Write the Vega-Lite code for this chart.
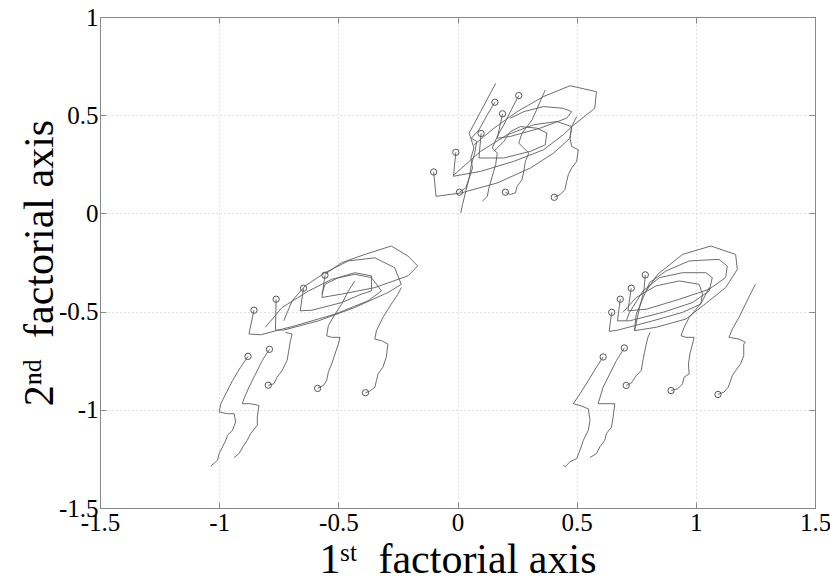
{
"$schema": "https://vega.github.io/schema/vega-lite/v6.json",
"width": 715, "height": 491,
"autosize": {"type": "none"},
"padding": {"left": 100, "top": 17, "right": 15, "bottom": 73},
"background": "white",
"data": {"values": [
{"g":"Ta","o":0,"x":-0.100,"y":0.211},{"g":"Ta","o":1,"x":-0.090,"y":0.087},{"g":"Ta","o":2,"x":0.014,"y":0.104},{"g":"Ta","o":3,"x":0.167,"y":0.155},{"g":"Ta","o":4,"x":0.306,"y":0.231},{"g":"Ta","o":5,"x":0.403,"y":0.307},{"g":"Ta","o":6,"x":0.472,"y":0.383},{"g":"Ta","o":7,"x":0.479,"y":0.442},{"g":"Ta","o":8,"x":0.417,"y":0.468},{"g":"Ta","o":9,"x":0.319,"y":0.451},{"g":"Ta","o":10,"x":0.208,"y":0.400},{"g":"Ta","o":11,"x":0.097,"y":0.316},{"g":"Ta","o":12,"x":-0.014,"y":0.197},
{"g":"Tb","o":0,"x":-0.007,"y":0.311},{"g":"Tb","o":1,"x":-0.017,"y":0.189},{"g":"Tb","o":2,"x":0.097,"y":0.214},{"g":"Tb","o":3,"x":0.236,"y":0.265},{"g":"Tb","o":4,"x":0.361,"y":0.324},{"g":"Tb","o":5,"x":0.444,"y":0.400},{"g":"Tb","o":6,"x":0.479,"y":0.442},{"g":"Tb","o":7,"x":0.576,"y":0.535},{"g":"Tb","o":8,"x":0.583,"y":0.620},{"g":"Tb","o":9,"x":0.472,"y":0.650},{"g":"Tb","o":10,"x":0.361,"y":0.595},{"g":"Tb","o":11,"x":0.250,"y":0.518},{"g":"Tb","o":12,"x":0.153,"y":0.434},{"g":"Tb","o":13,"x":0.069,"y":0.349},
{"g":"Tc","o":0,"x":0.099,"y":0.407},{"g":"Tc","o":1,"x":0.090,"y":0.282},{"g":"Tc","o":2,"x":0.194,"y":0.282},{"g":"Tc","o":3,"x":0.306,"y":0.316},{"g":"Tc","o":4,"x":0.368,"y":0.349},{"g":"Tc","o":5,"x":0.375,"y":0.409},{"g":"Tc","o":6,"x":0.333,"y":0.434},{"g":"Tc","o":7,"x":0.264,"y":0.442},{"g":"Tc","o":8,"x":0.222,"y":0.417},{"g":"Tc","o":9,"x":0.194,"y":0.366},{"g":"Tc","o":10,"x":0.153,"y":0.316},
{"g":"Td","o":0,"x":0.189,"y":0.507},{"g":"Td","o":1,"x":0.167,"y":0.383},{"g":"Td","o":2,"x":0.222,"y":0.392},{"g":"Td","o":3,"x":0.347,"y":0.434},{"g":"Td","o":4,"x":0.458,"y":0.485},{"g":"Td","o":5,"x":0.479,"y":0.518},{"g":"Td","o":6,"x":0.444,"y":0.535},{"g":"Td","o":7,"x":0.361,"y":0.544},{"g":"Td","o":8,"x":0.278,"y":0.518},{"g":"Td","o":9,"x":0.222,"y":0.485},
{"g":"Tw1","o":0,"x":0.157,"y":0.566},{"g":"Tw1","o":1,"x":0.125,"y":0.502},{"g":"Tw1","o":2,"x":0.090,"y":0.425},{"g":"Tw1","o":3,"x":0.058,"y":0.383},{"g":"Tw1","o":4,"x":0.081,"y":0.366},{"g":"Tw1","o":5,"x":0.072,"y":0.307},{"g":"Tw1","o":6,"x":0.058,"y":0.248},{"g":"Tw1","o":7,"x":0.049,"y":0.180},{"g":"Tw1","o":8,"x":0.035,"y":0.113},{"g":"Tw1","o":9,"x":0.021,"y":0.045},{"g":"Tw1","o":10,"x":0.014,"y":0.003},
{"g":"Tw2","o":0,"x":0.257,"y":0.600},{"g":"Tw2","o":1,"x":0.229,"y":0.535},{"g":"Tw2","o":2,"x":0.194,"y":0.451},{"g":"Tw2","o":3,"x":0.167,"y":0.392},{"g":"Tw2","o":4,"x":0.146,"y":0.333},{"g":"Tw2","o":5,"x":0.167,"y":0.307},{"g":"Tw2","o":6,"x":0.160,"y":0.248},{"g":"Tw2","o":7,"x":0.146,"y":0.189},{"g":"Tw2","o":8,"x":0.132,"y":0.130},{"g":"Tw2","o":9,"x":0.125,"y":0.087},{"g":"Tw2","o":10,"x":0.104,"y":0.062},
{"g":"Tw3","o":0,"x":0.008,"y":0.108},{"g":"Tw3","o":1,"x":0.035,"y":0.130},{"g":"Tw3","o":2,"x":0.049,"y":0.180},{"g":"Tw3","o":3,"x":0.063,"y":0.231},{"g":"Tw3","o":4,"x":0.056,"y":0.282},{"g":"Tw3","o":5,"x":0.069,"y":0.333},{"g":"Tw3","o":6,"x":0.049,"y":0.409},{"g":"Tw3","o":7,"x":0.097,"y":0.518},{"g":"Tw3","o":8,"x":0.160,"y":0.662},
{"g":"Tw4","o":0,"x":0.201,"y":0.108},{"g":"Tw4","o":1,"x":0.222,"y":0.096},{"g":"Tw4","o":2,"x":0.243,"y":0.104},{"g":"Tw4","o":3,"x":0.250,"y":0.138},{"g":"Tw4","o":4,"x":0.271,"y":0.172},{"g":"Tw4","o":5,"x":0.278,"y":0.214},{"g":"Tw4","o":6,"x":0.285,"y":0.265},{"g":"Tw4","o":7,"x":0.299,"y":0.307},{"g":"Tw4","o":8,"x":0.278,"y":0.333},{"g":"Tw4","o":9,"x":0.257,"y":0.358},{"g":"Tw4","o":10,"x":0.271,"y":0.409},{"g":"Tw4","o":11,"x":0.313,"y":0.476},{"g":"Tw4","o":12,"x":0.368,"y":0.628},
{"g":"Tw5","o":0,"x":0.406,"y":0.082},{"g":"Tw5","o":1,"x":0.431,"y":0.096},{"g":"Tw5","o":2,"x":0.451,"y":0.121},{"g":"Tw5","o":3,"x":0.458,"y":0.163},{"g":"Tw5","o":4,"x":0.465,"y":0.197},{"g":"Tw5","o":5,"x":0.479,"y":0.231},{"g":"Tw5","o":6,"x":0.500,"y":0.265},{"g":"Tw5","o":7,"x":0.507,"y":0.324},{"g":"Tw5","o":8,"x":0.479,"y":0.341},{"g":"Tw5","o":9,"x":0.472,"y":0.383},{"g":"Tw5","o":10,"x":0.479,"y":0.442},{"g":"Tw5","o":11,"x":0.500,"y":0.493},
{"g":"Ra","o":0,"x":0.647,"y":-0.504},{"g":"Ra","o":1,"x":0.636,"y":-0.601},{"g":"Ra","o":2,"x":0.674,"y":-0.594},{"g":"Ra","o":3,"x":0.819,"y":-0.547},{"g":"Ra","o":4,"x":0.944,"y":-0.504},{"g":"Ra","o":5,"x":1.021,"y":-0.462},{"g":"Ra","o":6,"x":1.028,"y":-0.411},{"g":"Ra","o":7,"x":1.014,"y":-0.361},{"g":"Ra","o":8,"x":0.931,"y":-0.344},{"g":"Ra","o":9,"x":0.833,"y":-0.369},{"g":"Ra","o":10,"x":0.750,"y":-0.428},{"g":"Ra","o":11,"x":0.694,"y":-0.504},
{"g":"Rb","o":0,"x":0.683,"y":-0.437},{"g":"Rb","o":1,"x":0.671,"y":-0.547},{"g":"Rb","o":2,"x":0.722,"y":-0.547},{"g":"Rb","o":3,"x":0.861,"y":-0.504},{"g":"Rb","o":4,"x":0.986,"y":-0.454},{"g":"Rb","o":5,"x":1.056,"y":-0.395},{"g":"Rb","o":6,"x":1.069,"y":-0.327},{"g":"Rb","o":7,"x":1.042,"y":-0.302},{"g":"Rb","o":8,"x":0.944,"y":-0.302},{"g":"Rb","o":9,"x":0.847,"y":-0.327},{"g":"Rb","o":10,"x":0.778,"y":-0.395},{"g":"Rb","o":11,"x":0.722,"y":-0.504},{"g":"Rb","o":12,"x":0.708,"y":-0.547},
{"g":"Rc","o":0,"x":0.729,"y":-0.381},{"g":"Rc","o":1,"x":0.715,"y":-0.496},{"g":"Rc","o":2,"x":0.792,"y":-0.488},{"g":"Rc","o":3,"x":0.931,"y":-0.437},{"g":"Rc","o":4,"x":1.056,"y":-0.386},{"g":"Rc","o":5,"x":1.125,"y":-0.327},{"g":"Rc","o":6,"x":1.132,"y":-0.268},{"g":"Rc","o":7,"x":1.097,"y":-0.234},{"g":"Rc","o":8,"x":0.972,"y":-0.242},{"g":"Rc","o":9,"x":0.875,"y":-0.293},{"g":"Rc","o":10,"x":0.806,"y":-0.352},{"g":"Rc","o":11,"x":0.750,"y":-0.513},{"g":"Rc","o":12,"x":0.743,"y":-0.597},
{"g":"Rd","o":0,"x":0.788,"y":-0.313},{"g":"Rd","o":1,"x":0.782,"y":-0.395},{"g":"Rd","o":2,"x":0.764,"y":-0.479},{"g":"Rd","o":3,"x":0.743,"y":-0.597},{"g":"Rd","o":4,"x":0.833,"y":-0.580},{"g":"Rd","o":5,"x":0.958,"y":-0.538},{"g":"Rd","o":6,"x":1.056,"y":-0.445},{"g":"Rd","o":7,"x":1.125,"y":-0.378},{"g":"Rd","o":8,"x":1.174,"y":-0.285},{"g":"Rd","o":9,"x":1.167,"y":-0.209},{"g":"Rd","o":10,"x":1.063,"y":-0.166},{"g":"Rd","o":11,"x":0.944,"y":-0.209},{"g":"Rd","o":12,"x":0.840,"y":-0.310},{"g":"Rd","o":13,"x":0.792,"y":-0.395},
{"g":"Rw1","o":0,"x":0.611,"y":-0.731},{"g":"Rw1","o":1,"x":0.583,"y":-0.783},{"g":"Rw1","o":2,"x":0.549,"y":-0.851},{"g":"Rw1","o":3,"x":0.514,"y":-0.918},{"g":"Rw1","o":4,"x":0.486,"y":-0.969},{"g":"Rw1","o":5,"x":0.514,"y":-0.978},{"g":"Rw1","o":6,"x":0.549,"y":-0.995},{"g":"Rw1","o":7,"x":0.556,"y":-1.054},{"g":"Rw1","o":8,"x":0.549,"y":-1.104},{"g":"Rw1","o":9,"x":0.528,"y":-1.155},{"g":"Rw1","o":10,"x":0.514,"y":-1.206},{"g":"Rw1","o":11,"x":0.500,"y":-1.248},{"g":"Rw1","o":12,"x":0.472,"y":-1.265},{"g":"Rw1","o":13,"x":0.451,"y":-1.290},{"g":"Rw1","o":14,"x":0.444,"y":-1.282},
{"g":"Rw2","o":0,"x":0.700,"y":-0.685},{"g":"Rw2","o":1,"x":0.667,"y":-0.749},{"g":"Rw2","o":2,"x":0.639,"y":-0.817},{"g":"Rw2","o":3,"x":0.611,"y":-0.885},{"g":"Rw2","o":4,"x":0.590,"y":-0.969},{"g":"Rw2","o":5,"x":0.625,"y":-0.969},{"g":"Rw2","o":6,"x":0.660,"y":-0.969},{"g":"Rw2","o":7,"x":0.653,"y":-1.037},{"g":"Rw2","o":8,"x":0.646,"y":-1.088},{"g":"Rw2","o":9,"x":0.625,"y":-1.121},{"g":"Rw2","o":10,"x":0.618,"y":-1.155},{"g":"Rw2","o":11,"x":0.597,"y":-1.189},{"g":"Rw2","o":12,"x":0.583,"y":-1.223},{"g":"Rw2","o":13,"x":0.556,"y":-1.243},
{"g":"Rw3","o":0,"x":0.708,"y":-0.876},{"g":"Rw3","o":1,"x":0.729,"y":-0.864},{"g":"Rw3","o":2,"x":0.750,"y":-0.826},{"g":"Rw3","o":3,"x":0.771,"y":-0.800},{"g":"Rw3","o":4,"x":0.778,"y":-0.749},{"g":"Rw3","o":5,"x":0.785,"y":-0.707},{"g":"Rw3","o":6,"x":0.792,"y":-0.665},{"g":"Rw3","o":7,"x":0.799,"y":-0.631},{"g":"Rw3","o":8,"x":0.808,"y":-0.606},
{"g":"Rw4","o":0,"x":0.896,"y":-0.902},{"g":"Rw4","o":1,"x":0.924,"y":-0.893},{"g":"Rw4","o":2,"x":0.944,"y":-0.868},{"g":"Rw4","o":3,"x":0.951,"y":-0.834},{"g":"Rw4","o":4,"x":0.972,"y":-0.817},{"g":"Rw4","o":5,"x":0.969,"y":-0.766},{"g":"Rw4","o":6,"x":0.975,"y":-0.716},{"g":"Rw4","o":7,"x":0.986,"y":-0.665},{"g":"Rw4","o":8,"x":0.993,"y":-0.631},{"g":"Rw4","o":9,"x":0.958,"y":-0.631},{"g":"Rw4","o":10,"x":0.938,"y":-0.623},{"g":"Rw4","o":11,"x":0.951,"y":-0.580},{"g":"Rw4","o":12,"x":0.972,"y":-0.530},{"g":"Rw4","o":13,"x":1.007,"y":-0.479},{"g":"Rw4","o":14,"x":1.028,"y":-0.445},{"g":"Rw4","o":15,"x":1.056,"y":-0.378},
{"g":"Rw5","o":0,"x":1.093,"y":-0.922},{"g":"Rw5","o":1,"x":1.118,"y":-0.910},{"g":"Rw5","o":2,"x":1.136,"y":-0.885},{"g":"Rw5","o":3,"x":1.146,"y":-0.851},{"g":"Rw5","o":4,"x":1.153,"y":-0.826},{"g":"Rw5","o":5,"x":1.167,"y":-0.800},{"g":"Rw5","o":6,"x":1.188,"y":-0.766},{"g":"Rw5","o":7,"x":1.201,"y":-0.724},{"g":"Rw5","o":8,"x":1.201,"y":-0.665},{"g":"Rw5","o":9,"x":1.208,"y":-0.656},{"g":"Rw5","o":10,"x":1.181,"y":-0.640},{"g":"Rw5","o":11,"x":1.139,"y":-0.631},{"g":"Rw5","o":12,"x":1.153,"y":-0.589},{"g":"Rw5","o":13,"x":1.181,"y":-0.530},{"g":"Rw5","o":14,"x":1.208,"y":-0.462},{"g":"Rw5","o":15,"x":1.229,"y":-0.411},{"g":"Rw5","o":16,"x":1.250,"y":-0.361},
{"g":"La","o":0,"x":-0.854,"y":-0.493},{"g":"La","o":1,"x":-0.875,"y":-0.614},{"g":"La","o":2,"x":-0.826,"y":-0.618},{"g":"La","o":3,"x":-0.681,"y":-0.572},{"g":"La","o":4,"x":-0.514,"y":-0.513},{"g":"La","o":5,"x":-0.375,"y":-0.445},{"g":"La","o":6,"x":-0.319,"y":-0.395},{"g":"La","o":7,"x":-0.361,"y":-0.327},{"g":"La","o":8,"x":-0.431,"y":-0.310},{"g":"La","o":9,"x":-0.527,"y":-0.335},{"g":"La","o":10,"x":-0.625,"y":-0.395},{"g":"La","o":11,"x":-0.736,"y":-0.479},{"g":"La","o":12,"x":-0.806,"y":-0.580},
{"g":"Lb","o":0,"x":-0.761,"y":-0.437},{"g":"Lb","o":1,"x":-0.764,"y":-0.594},{"g":"Lb","o":2,"x":-0.729,"y":-0.594},{"g":"Lb","o":3,"x":-0.583,"y":-0.547},{"g":"Lb","o":4,"x":-0.431,"y":-0.479},{"g":"Lb","o":5,"x":-0.292,"y":-0.403},{"g":"Lb","o":6,"x":-0.236,"y":-0.361},{"g":"Lb","o":7,"x":-0.264,"y":-0.276},{"g":"Lb","o":8,"x":-0.347,"y":-0.226},{"g":"Lb","o":9,"x":-0.458,"y":-0.242},{"g":"Lb","o":10,"x":-0.556,"y":-0.302},{"g":"Lb","o":11,"x":-0.639,"y":-0.369},{"g":"Lb","o":12,"x":-0.694,"y":-0.445},{"g":"Lb","o":13,"x":-0.729,"y":-0.547},
{"g":"Lc","o":0,"x":-0.646,"y":-0.381},{"g":"Lc","o":1,"x":-0.660,"y":-0.496},{"g":"Lc","o":2,"x":-0.611,"y":-0.493},{"g":"Lc","o":3,"x":-0.486,"y":-0.454},{"g":"Lc","o":4,"x":-0.403,"y":-0.411},{"g":"Lc","o":5,"x":-0.361,"y":-0.395},{"g":"Lc","o":6,"x":-0.361,"y":-0.318},{"g":"Lc","o":7,"x":-0.431,"y":-0.302},{"g":"Lc","o":8,"x":-0.500,"y":-0.327},{"g":"Lc","o":9,"x":-0.556,"y":-0.361},{"g":"Lc","o":10,"x":-0.569,"y":-0.411},
{"g":"Ld","o":0,"x":-0.556,"y":-0.315},{"g":"Ld","o":1,"x":-0.569,"y":-0.428},{"g":"Ld","o":2,"x":-0.486,"y":-0.411},{"g":"Ld","o":3,"x":-0.347,"y":-0.378},{"g":"Ld","o":4,"x":-0.208,"y":-0.318},{"g":"Ld","o":5,"x":-0.167,"y":-0.268},{"g":"Ld","o":6,"x":-0.208,"y":-0.217},{"g":"Ld","o":7,"x":-0.278,"y":-0.166},{"g":"Ld","o":8,"x":-0.389,"y":-0.209},{"g":"Ld","o":9,"x":-0.486,"y":-0.251},{"g":"Ld","o":10,"x":-0.556,"y":-0.310},
{"g":"Lw1","o":0,"x":-0.879,"y":-0.728},{"g":"Lw1","o":1,"x":-0.910,"y":-0.783},{"g":"Lw1","o":2,"x":-0.944,"y":-0.851},{"g":"Lw1","o":3,"x":-0.972,"y":-0.918},{"g":"Lw1","o":4,"x":-0.993,"y":-0.969},{"g":"Lw1","o":5,"x":-1.000,"y":-1.011},{"g":"Lw1","o":6,"x":-0.965,"y":-1.020},{"g":"Lw1","o":7,"x":-0.937,"y":-1.020},{"g":"Lw1","o":8,"x":-0.931,"y":-1.062},{"g":"Lw1","o":9,"x":-0.944,"y":-1.104},{"g":"Lw1","o":10,"x":-0.965,"y":-1.130},{"g":"Lw1","o":11,"x":-0.972,"y":-1.155},{"g":"Lw1","o":12,"x":-0.986,"y":-1.189},{"g":"Lw1","o":13,"x":-1.000,"y":-1.223},{"g":"Lw1","o":14,"x":-1.007,"y":-1.257},{"g":"Lw1","o":15,"x":-1.035,"y":-1.287},
{"g":"Lw2","o":0,"x":-0.789,"y":-0.692},{"g":"Lw2","o":1,"x":-0.819,"y":-0.749},{"g":"Lw2","o":2,"x":-0.847,"y":-0.817},{"g":"Lw2","o":3,"x":-0.875,"y":-0.885},{"g":"Lw2","o":4,"x":-0.896,"y":-0.944},{"g":"Lw2","o":5,"x":-0.903,"y":-0.969},{"g":"Lw2","o":6,"x":-0.868,"y":-0.969},{"g":"Lw2","o":7,"x":-0.833,"y":-0.978},{"g":"Lw2","o":8,"x":-0.840,"y":-1.037},{"g":"Lw2","o":9,"x":-0.840,"y":-1.079},{"g":"Lw2","o":10,"x":-0.868,"y":-1.121},{"g":"Lw2","o":11,"x":-0.882,"y":-1.155},{"g":"Lw2","o":12,"x":-0.896,"y":-1.180},{"g":"Lw2","o":13,"x":-0.917,"y":-1.223},{"g":"Lw2","o":14,"x":-0.937,"y":-1.243},
{"g":"Lw3","o":0,"x":-0.794,"y":-0.875},{"g":"Lw3","o":1,"x":-0.771,"y":-0.868},{"g":"Lw3","o":2,"x":-0.757,"y":-0.834},{"g":"Lw3","o":3,"x":-0.736,"y":-0.800},{"g":"Lw3","o":4,"x":-0.715,"y":-0.749},{"g":"Lw3","o":5,"x":-0.708,"y":-0.699},{"g":"Lw3","o":6,"x":-0.701,"y":-0.648},{"g":"Lw3","o":7,"x":-0.694,"y":-0.614},{"g":"Lw3","o":8,"x":-0.722,"y":-0.606},
{"g":"Lw4","o":0,"x":-0.587,"y":-0.891},{"g":"Lw4","o":1,"x":-0.562,"y":-0.876},{"g":"Lw4","o":2,"x":-0.549,"y":-0.851},{"g":"Lw4","o":3,"x":-0.542,"y":-0.809},{"g":"Lw4","o":4,"x":-0.528,"y":-0.766},{"g":"Lw4","o":5,"x":-0.514,"y":-0.716},{"g":"Lw4","o":6,"x":-0.500,"y":-0.665},{"g":"Lw4","o":7,"x":-0.493,"y":-0.631},{"g":"Lw4","o":8,"x":-0.528,"y":-0.631},{"g":"Lw4","o":9,"x":-0.549,"y":-0.623},{"g":"Lw4","o":10,"x":-0.542,"y":-0.572},{"g":"Lw4","o":11,"x":-0.514,"y":-0.513},{"g":"Lw4","o":12,"x":-0.486,"y":-0.462},{"g":"Lw4","o":13,"x":-0.458,"y":-0.395},{"g":"Lw4","o":14,"x":-0.431,"y":-0.344},
{"g":"Lw5","o":0,"x":-0.386,"y":-0.913},{"g":"Lw5","o":1,"x":-0.368,"y":-0.905},{"g":"Lw5","o":2,"x":-0.347,"y":-0.885},{"g":"Lw5","o":3,"x":-0.340,"y":-0.851},{"g":"Lw5","o":4,"x":-0.333,"y":-0.817},{"g":"Lw5","o":5,"x":-0.313,"y":-0.783},{"g":"Lw5","o":6,"x":-0.299,"y":-0.733},{"g":"Lw5","o":7,"x":-0.292,"y":-0.665},{"g":"Lw5","o":8,"x":-0.319,"y":-0.648},{"g":"Lw5","o":9,"x":-0.347,"y":-0.640},{"g":"Lw5","o":10,"x":-0.340,"y":-0.597},{"g":"Lw5","o":11,"x":-0.313,"y":-0.530},{"g":"Lw5","o":12,"x":-0.278,"y":-0.462},{"g":"Lw5","o":13,"x":-0.250,"y":-0.411},{"g":"Lw5","o":14,"x":-0.236,"y":-0.378}
]},
"layer": [
{"mark": {"type": "line", "stroke": "#5e5e5e", "strokeWidth": 0.9},
 "encoding": {
  "x": {"field": "x", "type": "quantitative", "scale": {"domain": [-1.5, 1.5], "nice": false, "zero": false},
        "axis": {"orient": "bottom", "values": [-1.5, -1, -0.5, 0, 0.5, 1, 1.5], "labelExpr": "'' + datum.value", "grid": true,
                 "title": "1ˢᵗ\u2002factorial axis", "titleY": 64, "titleBaseline": "alphabetic"}},
  "y": {"field": "y", "type": "quantitative", "scale": {"domain": [-1.5, 1], "nice": false, "zero": false},
        "axis": {"orient": "left", "values": [-1.5, -1, -0.5, 0, 0.5, 1], "labelExpr": "'' + datum.value", "grid": true,
                 "title": "2ⁿᵈ\u2002factorial axis", "titleX": -48, "titleBaseline": "alphabetic"}},
  "detail": {"field": "g"},
  "order": {"field": "o", "type": "quantitative"}
 }},
{"transform": [{"filter": "datum.o == 0"}],
 "mark": {"type": "point", "shape": "circle", "filled": false, "size": 40, "stroke": "#555", "strokeWidth": 1, "opacity": 1},
 "encoding": {
  "x": {"field": "x", "type": "quantitative",
        "axis": {"orient": "top", "values": [-1.5, -1, -0.5, 0, 0.5, 1, 1.5], "labels": false, "grid": false, "title": null}},
  "y": {"field": "y", "type": "quantitative",
        "axis": {"orient": "right", "values": [-1.5, -1, -0.5, 0, 0.5, 1], "labels": false, "grid": false, "title": null}}
 }}
],
"resolve": {"axis": {"x": "independent", "y": "independent"}},
"config": {
 "view": {"stroke": null},
 "axis": {"domainColor": "#888", "domainWidth": 1, "tickColor": "#888", "tickSize": -6, "tickWidth": 1,
          "gridColor": "#c4c4c4", "gridDash": [1, 3], "gridWidth": 1,
          "labelFont": "Liberation Serif", "labelFontSize": 25, "labelColor": "#000", "labelPadding": 8,
          "labelFlush": false, "labelOverlap": false,
          "titleFont": "Liberation Serif", "titleFontSize": 42, "titleFontWeight": "normal", "titleColor": "#000"}
}
}
